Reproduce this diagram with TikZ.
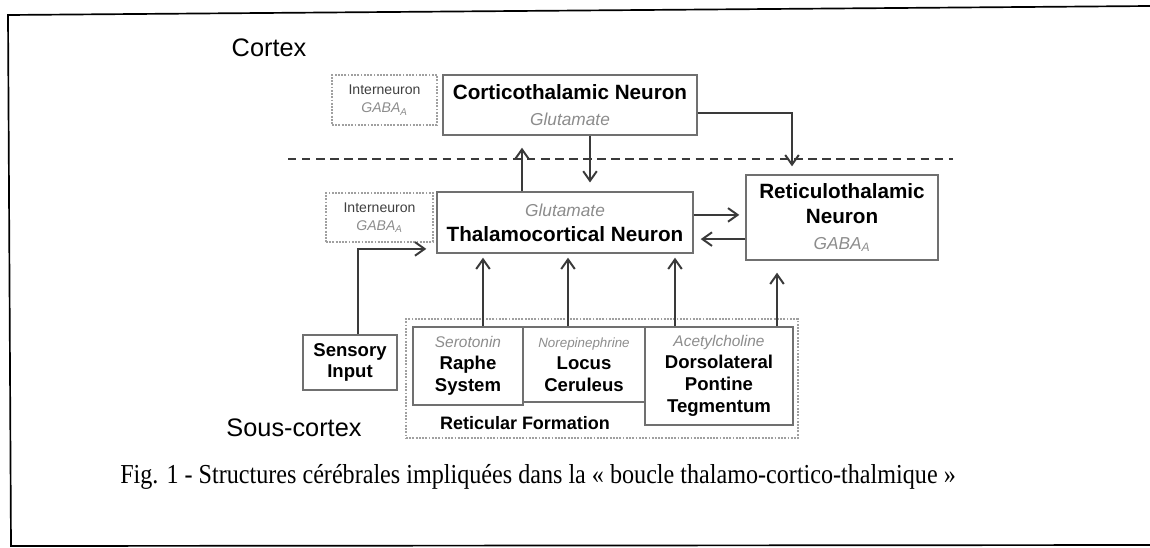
\documentclass[tikz,border=0pt]{standalone}
\usepackage{fontspec}
\setmainfont{Liberation Serif}
\setsansfont{Liberation Sans}
\newfontfamily\legende[FakeStretch=0.88]{Liberation Serif}
\usetikzlibrary{arrows.meta,calc}
\definecolor{trait}{HTML}{3A3A3A}
\definecolor{cadre}{HTML}{707070}
\definecolor{pointille}{HTML}{A0A0A0}
\definecolor{neurotr}{HTML}{8C8C8C}
\newcommand{\transm}[2][12.3]{{\color{neurotr}\mdseries\itshape\fontsize{#1}{#1}\selectfont #2}}

\begin{document}
\begin{tikzpicture}[x=0.25mm,y=-0.25mm,font=\sffamily,>={Straight Barb[length=2.4mm,width=3.4mm]},
neur/.style={rectangle,draw=cadre,line width=1pt,align=center,inner sep=0pt,font=\sffamily\bfseries\fontsize{14.7}{18}\selectfont},
inter/.style={rectangle,draw=pointille,densely dotted,line width=1.3pt,align=center,inner sep=0pt,text=black!75,font=\sffamily\fontsize{10}{13}\selectfont},
noyau/.style={neur,font=\sffamily\bfseries\fontsize{13.2}{15.5}\selectfont},
etiq/.style={font=\sffamily\bfseries\fontsize{12.8}{15}\selectfont},
zone/.style={font=\sffamily\fontsize{18}{21}\selectfont},
flow/.style={->,line width=1.4pt,draw=trait},
sep/.style={line width=1.2pt,draw=trait,dash pattern=on 6pt off 4pt}]
\useasboundingbox (0,0) rectangle (1150,547);

% cadre de la figure
\draw[line width=1.2pt] (1150,6) -- (8,15) -- (11,546) -- (1150,545);

\node[zone] (cx) at (269,48) {Cortex};
\node[zone] (scx) at (294,428) {Sous-cortex};

\coordinate (g) at (288,159);
\coordinate (d) at (953,159);
\draw[sep] (g) -- (d);

\node[inter,minimum width=26.25mm,minimum height=12.5mm] (ic) at (384.5,100) {Interneuron\\\transm[10]{GABA\textsubscript{A}}};
\node[neur,minimum width=63.5mm,minimum height=15mm] (ct) at (570,105) {Corticothalamic Neuron\\\transm{Glutamate}};
\node[inter,minimum width=26.75mm,minimum height=12.25mm] (it) at (379.5,217.5) {Interneuron\\\transm[10]{GABA\textsubscript{A}}};
\node[neur,minimum width=64mm,minimum height=15.25mm] (tc) at (565,222.5) {\transm{Glutamate}\\Thalamocortical Neuron};
\node[neur,minimum width=48mm,minimum height=21.25mm] (rt) at (842,217.5) {Reticulothalamic\\Neuron\\\transm{GABA\textsubscript{A}}};
\node[noyau,minimum width=23.5mm,minimum height=13.75mm] (si) at (350,362.5) {Sensory\\Input};

\node[inter,minimum width=98mm,minimum height=29.75mm] (rf) at (602,378.5) {};
\node[etiq] (rfl) at (525,423) {Reticular Formation};
\node[noyau,minimum width=27.5mm,minimum height=19.5mm] (rs) at (468,366) {\transm[11]{Serotonin}\\Raphe\\System};
\node[noyau,minimum width=30.5mm,minimum height=18.75mm] (lc) at (584,364.5) {\transm[9.5]{Norepinephrine}\\Locus\\Ceruleus};
\node[noyau,minimum width=37mm,minimum height=24.5mm] (dp) at (719,376) {\transm[11]{Acetylcholine}\\Dorsolateral\\Pontine\\Tegmentum};

\node[font=\legende\fontsize{19.5}{22}\selectfont] (leg) at (538,477) {Fig. 1 - Structures cérébrales impliquées dans la « boucle thalamo-cortico-thalmique »};

\draw[flow,shorten >=3mm] ([xshift=-10.75mm]tc.north) -- ([xshift=-10.75mm]tc.north |- ct.south);
\draw[flow,shorten >=2.2mm] ([xshift=5mm]ct.south) -- ([xshift=5mm]ct.south |- tc.north);
\draw[flow,shorten >=2mm] ([yshift=-2mm]ct.east) -| ([xshift=-12.5mm]rt.north);
\draw[flow,shorten >=1.5mm] ([yshift=1.9mm]tc.east) -- ([yshift=1.9mm]tc.east -| rt.west);
\draw[flow,shorten >=1.75mm] ([yshift=-5.4mm]rt.west) -- ([yshift=-5.4mm]rt.west -| tc.east);
\draw[flow,shorten >=2.5mm] ([xshift=2mm]si.north) |- ([yshift=-6.6mm]tc.west);
\draw[flow,shorten >=1mm] ([xshift=3.75mm]rs.north) -- ([xshift=3.75mm]rs.north |- tc.south);
\draw[flow,shorten >=1mm] ([xshift=-4mm]lc.north) -- ([xshift=-4mm]lc.north |- tc.south);
\draw[flow,shorten >=1mm] ([xshift=-11mm]dp.north) -- ([xshift=-11mm]dp.north |- tc.south);
\draw[flow,shorten >=3mm] ([xshift=14.5mm]dp.north) -- ([xshift=14.5mm]dp.north |- rt.south);
\end{tikzpicture}
\end{document}
